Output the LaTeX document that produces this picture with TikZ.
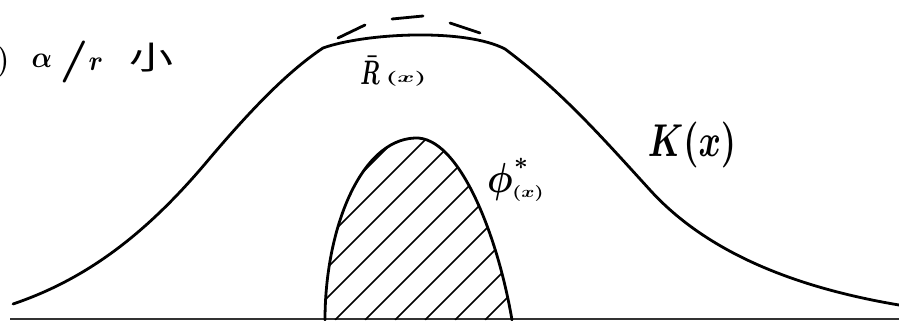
\documentclass[tikz,border=0pt]{standalone}
\usepackage{fontspec}
\newfontfamily\cjk{Noto Sans CJK JP}
\begin{document}
\begin{tikzpicture}[x=1pt,y=-1pt,
  curve/.style={line width=2.8pt,line cap=round,line join=round},
  hatch/.style={line width=1.7pt},
  lbl/.style={inner sep=0pt,font=\fontsize{10}{10}\selectfont\boldmath}]
\useasboundingbox (0,0) rectangle (899,321);
\clip (0,0) rectangle (899,321);
% baseline
\draw[line width=2pt,black!80] (10,319) -- (899,319);
% K(x) curve
\coordinate (k0) at (13,304);
\coordinate (k1) at (210,158);
\coordinate (k2) at (323,48);
\coordinate (k3) at (505,49);
\coordinate (k4) at (650,190);
\coordinate (k5) at (899,305);
\draw[curve] (k0) .. controls (90,278) and (150,230) .. (k1)
  .. controls (255,105) and (290,70) .. (k2)
  .. controls (365,33) and (465,28) .. (k3)
  .. controls (560,90) and (600,135) .. (k4)
  .. controls (700,245) and (780,285) .. (k5);
% dashed arc
\draw[curve] (338,38) -- (365,25);
\draw[curve] (392,19) -- (423,16);
\draw[curve] (450,23) -- (480,33);
% shaded region
\coordinate (p0) at (325,320);
\coordinate (p1) at (415,138);
\coordinate (p2) at (512,320);
\begin{scope}
  \clip (p0) .. controls (325,230) and (360,140) .. (p1)
    .. controls (458,136) and (497,232) .. (p2) -- cycle;
  \foreach \c in {535,565,...,835} \draw[hatch] (\c-320,320) -- ++(330,-330);
\end{scope}
\draw[curve] (p0) .. controls (325,230) and (360,140) .. (p1)
    .. controls (458,136) and (497,232) .. (p2);
% labels
\node[lbl,anchor=east] (paren) at (9,62) {\scalebox{2.4}[3]{\bfseries )}};
\node[lbl] (alpha) at (42,61) {\scalebox{2.7}[3]{$\alpha$}};
\node[lbl] (slash) at (74,62) {\scalebox{5}[4.2]{$/$}};
\node[lbl] (rr) at (96,64) {\scalebox{2.6}[2.8]{$r$}};
\node[lbl] (small) at (151,58) {\scalebox{1.1}[0.8]{\cjk\fontsize{40}{40}\selectfont 小}};
\node[lbl] (Rlbl) at (370,70) {\scalebox{2.2}[3.4]{$\bar{R}$}};
\node[lbl] (Rx) at (406,79) {\scalebox{2.6}[1.5]{$(x)$}};
\node[lbl] (Klbl) at (692,145) {\scalebox{3.4}[4.6]{$K(x)$}};
\node[lbl] (phi) at (500,182) {\scalebox{3.6}[4.2]{$\phi$}};
\node[lbl] (star) at (521,164) {\scalebox{2.4}{$*$}};
\node[lbl] (phix) at (528,193) {\scalebox{2}[1.6]{$(x)$}};
\end{tikzpicture}
\end{document}
